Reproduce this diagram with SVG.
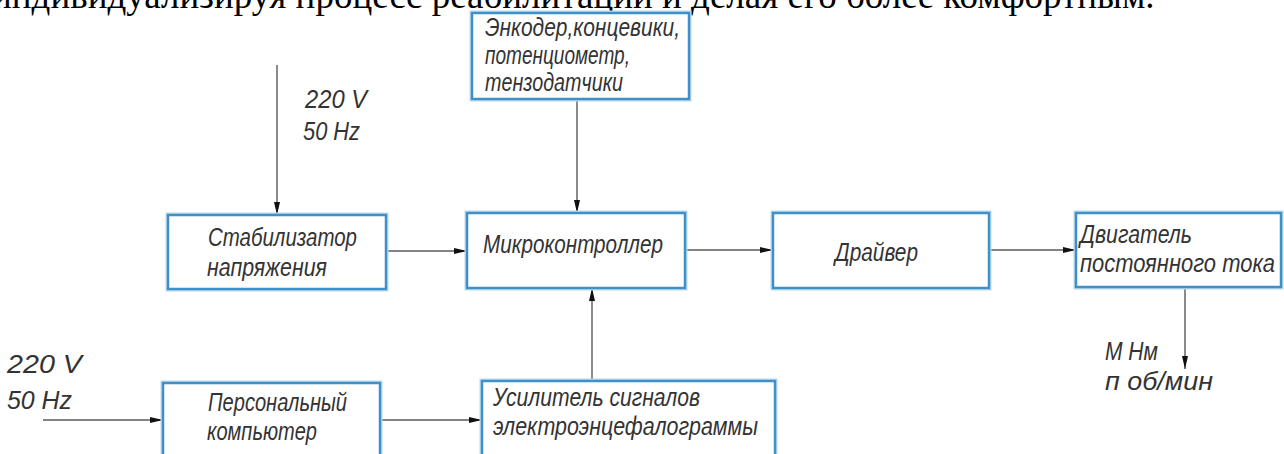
<svg xmlns="http://www.w3.org/2000/svg" width="1284" height="454" viewBox="0 0 1284 454">
<style>
.box{fill:#ffffff;stroke:#3f8fc8;stroke-width:2.5}
.glow{fill:none;stroke:#bcdcf0;stroke-width:5}
.lbl{font-family:"Liberation Sans",Arial,sans-serif;font-style:italic;font-size:25px;fill:#333333}
.top{font-family:"Liberation Serif","Times New Roman",serif;font-size:37px;fill:#000000}
.con{fill:none;stroke:#5a5a5a;stroke-width:1.4}
</style>
<defs>
<marker id="arr" markerUnits="userSpaceOnUse" markerWidth="14" markerHeight="8" refX="13" refY="4" orient="auto">
<path d="M0,1 L13,4 L0,7 z" fill="#111111"/>
</marker>
</defs>
<rect width="1284" height="454" fill="#ffffff"/>
<text class="top" x="-8" y="8">индивидуализируя процесс реабилитации и делая его более комфортным.</text>

<g id="connectors">
<line class="con" x1="277" y1="65" x2="277" y2="215" marker-end="url(#arr)"/>
<line class="con" x1="386" y1="251" x2="467" y2="251" marker-end="url(#arr)"/>
<line class="con" x1="577" y1="99" x2="577" y2="213" marker-end="url(#arr)"/>
<line class="con" x1="592" y1="381" x2="592" y2="288" marker-end="url(#arr)"/>
<line class="con" x1="685" y1="250" x2="773" y2="250" marker-end="url(#arr)"/>
<line class="con" x1="989" y1="250" x2="1076" y2="250" marker-end="url(#arr)"/>
<line class="con" x1="1185" y1="287" x2="1185" y2="369" marker-end="url(#arr)"/>
<line class="con" x1="43" y1="420" x2="163" y2="420" marker-end="url(#arr)"/>
<line class="con" x1="380" y1="420" x2="482" y2="420" marker-end="url(#arr)"/>
</g>

<g id="encoder">
<rect class="glow" x="472" y="13" width="217" height="86"/>
<rect class="box" x="472" y="13" width="217" height="86"/>
<text class="lbl" x="485" y="36" textLength="195" lengthAdjust="spacingAndGlyphs">Энкодер,концевики,</text>
<text class="lbl" x="485" y="64" textLength="145" lengthAdjust="spacingAndGlyphs">потенциометр,</text>
<text class="lbl" x="485" y="91" textLength="138" lengthAdjust="spacingAndGlyphs">тензодатчики</text>
</g>

<g id="power1">
<text class="lbl" x="305" y="108" textLength="62" lengthAdjust="spacingAndGlyphs">220 V</text>
<text class="lbl" x="303" y="140" textLength="57" lengthAdjust="spacingAndGlyphs">50 Hz</text>
</g>

<g id="stabilizer">
<rect class="glow" x="168" y="215" width="218" height="74"/>
<rect class="box" x="168" y="215" width="218" height="74"/>
<text class="lbl" x="208" y="246" textLength="149" lengthAdjust="spacingAndGlyphs">Стабилизатор</text>
<text class="lbl" x="207" y="276" textLength="120" lengthAdjust="spacingAndGlyphs">напряжения</text>
</g>

<g id="mcu">
<rect class="glow" x="467" y="213" width="218" height="75"/>
<rect class="box" x="467" y="213" width="218" height="75"/>
<text class="lbl" x="483" y="253" textLength="180" lengthAdjust="spacingAndGlyphs">Микроконтроллер</text>
</g>

<g id="driver">
<rect class="glow" x="773" y="213" width="216" height="75"/>
<rect class="box" x="773" y="213" width="216" height="75"/>
<text class="lbl" x="835" y="261" textLength="83" lengthAdjust="spacingAndGlyphs">Драйвер</text>
</g>

<g id="motor">
<rect class="glow" x="1076" y="213" width="205" height="74"/>
<rect class="box" x="1076" y="213" width="205" height="74"/>
<text class="lbl" x="1080" y="243" textLength="112" lengthAdjust="spacingAndGlyphs">Двигатель</text>
<text class="lbl" x="1080" y="272" textLength="195" lengthAdjust="spacingAndGlyphs">постоянного тока</text>
</g>

<g id="output">
<text class="lbl" x="1105" y="360" textLength="53" lengthAdjust="spacingAndGlyphs">М Нм</text>
<text class="lbl" x="1105" y="390" textLength="108" lengthAdjust="spacingAndGlyphs">п  об/мин</text>
</g>

<g id="power2">
<text class="lbl" x="7" y="373" textLength="75" lengthAdjust="spacingAndGlyphs">220 V</text>
<text class="lbl" x="7" y="409" textLength="65" lengthAdjust="spacingAndGlyphs">50 Hz</text>
</g>

<g id="pc">
<rect class="glow" x="163" y="383" width="217" height="85"/>
<rect class="box" x="163" y="383" width="217" height="85"/>
<text class="lbl" x="208" y="411" textLength="139" lengthAdjust="spacingAndGlyphs">Персональный</text>
<text class="lbl" x="207" y="440" textLength="110" lengthAdjust="spacingAndGlyphs">компьютер</text>
</g>

<g id="amplifier">
<rect class="glow" x="482" y="381" width="293" height="87"/>
<rect class="box" x="482" y="381" width="293" height="87"/>
<text class="lbl" x="493" y="406" textLength="207" lengthAdjust="spacingAndGlyphs">Усилитель сигналов</text>
<text class="lbl" x="493" y="435" textLength="265" lengthAdjust="spacingAndGlyphs">электроэнцефалограммы</text>
</g>
</svg>
